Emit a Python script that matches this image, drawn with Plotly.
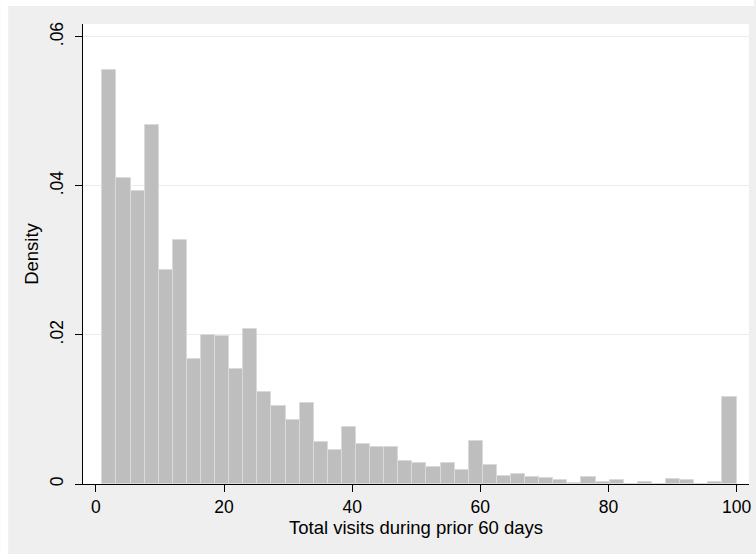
import plotly.graph_objects as go

# Histogram data (Stata-style density histogram, 45 bins from 1 to 100)
bin_start = 1.0
bin_width = 2.2
densities = [0.0555, 0.0410, 0.0393, 0.0481, 0.0287, 0.0327, 0.0168, 0.0200,
             0.0199, 0.0154, 0.0208, 0.0123, 0.0104, 0.0086, 0.0109, 0.0057,
             0.0045, 0.0076, 0.0054, 0.0050, 0.0050, 0.0031, 0.0028, 0.0023,
             0.0028, 0.0019, 0.0058, 0.0025, 0.0011, 0.0014, 0.0009, 0.0008,
             0.0005, 0.0001, 0.0009, 0.0003, 0.0005, 0.0000, 0.0003, 0.0000,
             0.0007, 0.0005, 0.0000, 0.0003, 0.0117]
x_ticks = [0, 20, 40, 60, 80, 100]
x_ticklabels = ["0", "20", "40", "60", "80", "100"]
y_ticks = [0, 0.02, 0.04, 0.06]
y_ticklabels = ["0", ".02", ".04", ".06"]

centers = [bin_start + bin_width * (i + 0.5) for i in range(len(densities))]

FONT = "Liberation Sans, Arial, Helvetica, sans-serif"

fig = go.Figure()
fig.add_trace(go.Bar(
    x=centers, y=densities, width=bin_width,
    marker=dict(color="#BEBEBE", line=dict(color="#DADADA", width=1)),
    showlegend=False, hoverinfo="skip",
))

W, H = 756, 554
L, R, T, B = 83, 5, 24, 70
pw, ph = W - L - R, H - T - B

def px_to_paper_x(px):
    return (px - L) / pw

def px_to_paper_y(py):
    return (H - B - py) / ph

# white strips at top and left outside the gray outer region
fig.add_shape(type="rect", xref="paper", yref="paper",
              x0=px_to_paper_x(0), x1=px_to_paper_x(W),
              y0=px_to_paper_y(6), y1=px_to_paper_y(0),
              fillcolor="white", line=dict(width=0), layer="below")
fig.add_shape(type="rect", xref="paper", yref="paper",
              x0=px_to_paper_x(0), x1=px_to_paper_x(8),
              y0=px_to_paper_y(H), y1=px_to_paper_y(0),
              fillcolor="white", line=dict(width=0), layer="below")

fig.update_layout(
    width=W, height=H,
    margin=dict(l=L, r=R, t=T, b=B, pad=0),
    paper_bgcolor="#EFEFEF",
    plot_bgcolor="white",
    font=dict(family=FONT, color="#000000", size=17.5),
    bargap=0,
)
fig.update_xaxes(
    range=[-2.02, 101.95],
    tickmode="array", tickvals=x_ticks, ticktext=x_ticklabels,
    ticks="outside", ticklen=7, tickwidth=1.4, tickcolor="#000000",
    showline=True, linecolor="#000000", linewidth=1.4,
    showgrid=False, zeroline=False,
    tickfont=dict(size=17.5, family=FONT),
    title=dict(text="Total visits during prior 60 days",
               font=dict(size=18.5, family=FONT), standoff=3),
)
fig.update_yaxes(
    range=[0, 0.0617],
    tickmode="array", tickvals=y_ticks, ticktext=y_ticklabels,
    tickangle=-90, ticklabelstandoff=5,
    ticks="outside", ticklen=7, tickwidth=1.4, tickcolor="#000000",
    showline=True, linecolor="#000000", linewidth=1.4,
    showgrid=True, gridcolor="#EBEBEB", gridwidth=1,
    zeroline=False,
    tickfont=dict(size=17.5, family=FONT),
    title=dict(text="Density", font=dict(size=18.5, family=FONT), standoff=3),
)

fig.write_html("out.html")
